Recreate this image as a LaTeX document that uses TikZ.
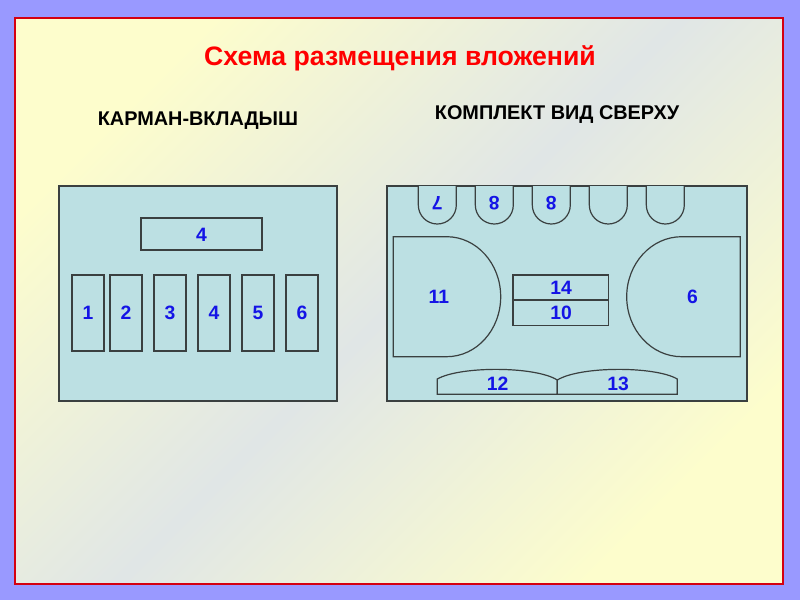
\documentclass[tikz,border=0pt]{standalone}
\usepackage{fontspec}
\setmainfont{Liberation Sans}
\usetikzlibrary{positioning}
\definecolor{slideback}{HTML}{9999FF}
\definecolor{paneyellow}{HTML}{FDFDCC}
\definecolor{panegrey}{HTML}{E0E6E6}
\definecolor{paneframe}{HTML}{D40010}
\definecolor{boxblue}{HTML}{BCE0E3}
\definecolor{boxline}{HTML}{3A4040}
\definecolor{numblue}{HTML}{1414E6}
\begin{document}
\begin{tikzpicture}[x=.75pt,y=-.75pt,
 part/.style={fill=boxblue,draw=boxline,line width=.9pt},
 num/.style={text=numblue,inner sep=0pt,font=\fontsize{14.5}{16}\selectfont\bfseries}]
\fill[slideback] (0,0) rectangle (800,600);
\shade[left color=paneyellow,right color=paneyellow,middle color=panegrey,shading angle=45] (15,18) rectangle (783,584);
\draw[paneframe,line width=1.6pt] (15,18) rectangle (783,584);
% headings
\node[anchor=base,inner sep=0pt,text=red,font=\fontsize{20}{23}\selectfont\bfseries] (title) at (400,65) {Схема размещения вложений};
\node[anchor=base,inner sep=0pt,font=\fontsize{14.9}{17}\selectfont\bfseries] (pocket) at (198,125) {КАРМАН-ВКЛАДЫШ};
\node[anchor=base,inner sep=0pt,font=\fontsize{14.9}{17}\selectfont\bfseries] (kit) at (557,119) {КОМПЛЕКТ ВИД СВЕРХУ};
% pocket insert
\draw[part] (59,186) rectangle (337,401);
\draw[part] (141,218) rectangle (262,250);
\node[num] (p0) at (201.5,234.5) {4};
\foreach \x/\n in {72/1,110/2,154/3,198/4,242/5,286/6}{
 \draw[part] (\x,275) rectangle ++(32,76);
 \node[num] (p\n) at (\x+16,313) {\n};
}
% kit, top view
\draw[part] (387,186) rectangle (747,401);
\foreach \i in {0,...,4}
 \draw[part] ({418.3+57*\i},186) -- ++(0,19) arc[start angle=180,end angle=0,radius=19] -- ++(0,-19);
\node[num,rotate=180] (t7) at (437.3,203) {7};
\node[num,rotate=180] (t8a) at (494.3,203) {8};
\node[num,rotate=180] (t8b) at (551.3,203) {8};
\draw[part] (393.3,236.7) -- (446.7,236.7) arc[start angle=-90,end angle=90,x radius=54,y radius=60] -- (393.3,356.7) -- cycle;
\node[num] (k11) at (438.8,297) {11};
\draw[part] (740.3,236.7) -- (681.7,236.7) arc[start angle=-90,end angle=-270,x radius=55,y radius=60] -- (740.3,356.7) -- cycle;
\node[num] (k6) at (692.5,297) {6};
\draw[part] (513,275) rectangle (608.3,300);
\draw[part] (513,300) rectangle (608.3,325.3);
\node[num] (k14) at (561,287.5) {14};
\node[num] (k10) at (561,313) {10};
\draw[part] (437.3,394.3) -- (437.3,379) .. controls (460,366) and (535,366) .. (557.3,380) -- (557.3,394.3) -- cycle;
\draw[part] (557.3,394.3) -- (557.3,380) .. controls (580,366) and (655,366) .. (677.3,379) -- (677.3,394.3) -- cycle;
\node[num] (k12) at (497.5,384) {12};
\node[num] (k13) at (618,384) {13};
\end{tikzpicture}
\end{document}
